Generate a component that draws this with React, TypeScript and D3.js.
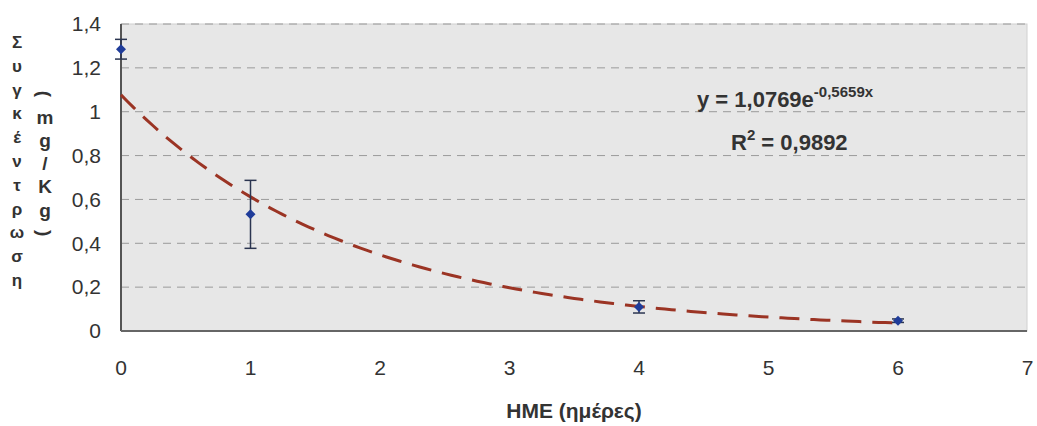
import React from "react";
import * as d3 from "d3";

const days = [0, 1, 4, 6];
const concentration = [1.285, 0.532, 0.11, 0.047];
const errors = [0.045, 0.155, 0.028, 0.008];
const xTicks = [0, 1, 2, 3, 4, 5, 6, 7];
const yTicks = [0, 0.2, 0.4, 0.6, 0.8, 1, 1.2, 1.4];
const trendA = 1.0769;
const trendB = -0.5659;
const yTitle1 = ["Σ", "υ", "γ", "κ", "έ", "ν", "τ", "ρ", "ω", "σ", "η"];
const yTitle2 = ["(", "m", "g", "/", "K", "g", ")"];

const fmt = (v: number) => String(+v.toFixed(1)).replace(".", ",");

export default function App() {
  const W = 1037, H = 426;
  const left = 121, right = 1027, top = 24, bottom = 331;
  const x = d3.scaleLinear().domain([0, 7]).range([left, left + 7 * 129.5]);
  const y = d3.scaleLinear().domain([0, 1.4]).range([bottom, top]);
  const trendPts = d3.range(0, 6.0001, 0.05).map((t) => [t, trendA * Math.exp(trendB * t)] as [number, number]);
  const line = d3.line<[number, number]>().x((d) => x(d[0])).y((d) => y(d[1]));
  const font = "'Liberation Sans', Arial, sans-serif";
  return (
    <svg width={W} height={H} style={{ position: "absolute", left: 0, top: 0 }} fontFamily={font}>
      <rect x={0} y={0} width={W} height={H} fill="#ffffff" />
      <rect x={left} y={top} width={right - left} height={bottom - top} fill="#e7e7e7" stroke="#d0d0d0" />
      {yTicks.filter((t) => t > 0).map((t) => (
        <line key={t} x1={left} x2={right} y1={y(t)} y2={y(t)} stroke="#9a9a9a" strokeWidth={1} strokeDasharray="8,6" />
      ))}
      <line x1={left} x2={left} y1={top} y2={bottom} stroke="#555" strokeWidth={2} />
      <line x1={left} x2={right} y1={bottom} y2={bottom} stroke="#666" strokeWidth={2} />
      <path d={line(trendPts) || ""} fill="none" stroke="#9b3424" strokeWidth={3} strokeDasharray="20,11" />
      {days.map((d, i) => {
        const cx = x(d), cy = y(concentration[i]);
        const y1 = y(concentration[i] + errors[i]), y2 = y(concentration[i] - errors[i]);
        return (
          <g key={d}>
            <line x1={cx} x2={cx} y1={y1} y2={y2} stroke="#2b3550" strokeWidth={1.5} />
            <line x1={cx - 6} x2={cx + 6} y1={y1} y2={y1} stroke="#2b3550" strokeWidth={1.5} />
            <line x1={cx - 6} x2={cx + 6} y1={y2} y2={y2} stroke="#2b3550" strokeWidth={1.5} />
            <path d={`M${cx},${cy - 5}L${cx + 5},${cy}L${cx},${cy + 5}L${cx - 5},${cy}Z`} fill="#1f3c9a" />
          </g>
        );
      })}
      {yTicks.map((t) => (
        <text key={t} x={101} y={y(t)} dy="0.35em" textAnchor="end" fontSize={21} fill="#333">{fmt(t)}</text>
      ))}
      {xTicks.map((t) => (
        <text key={t} x={x(t)} y={368} dy="0.35em" textAnchor="middle" fontSize={21} fill="#333">{fmt(t)}</text>
      ))}
      <text x={574} y={411} dy="0.35em" textAnchor="middle" fontSize={21} fontWeight="bold" fill="#333">HME (ημέρες)</text>
      {yTitle1.map((c, i) => (
        <text key={i} x={17} y={42 + i * 23.8} dy="0.35em" textAnchor="middle" fontSize={17} fontWeight="bold" fill="#333">{c}</text>
      ))}
      {yTitle2.map((c, i) => {
        const cy = 94 + i * 23.2;
        const rot = c === "(" || c === ")";
        return (
          <text key={i} x={45} y={cy} dy="0.35em" textAnchor="middle" fontSize={19} fontWeight="bold" fill="#333"
            transform={rot ? `rotate(90 45 ${cy})` : undefined}>{c}</text>
        );
      })}
      <text x={697} y={107} fontSize={22} fontWeight="bold" fill="#333">
        y = 1,0769e<tspan dy={-10} fontSize={15}>-0,5659x</tspan>
      </text>
      <text x={731} y={150} fontSize={22} fontWeight="bold" fill="#333">
        R<tspan dy={-10} fontSize={15}>2</tspan><tspan dy={10}> = 0,9892</tspan>
      </text>
    </svg>
  );
}
